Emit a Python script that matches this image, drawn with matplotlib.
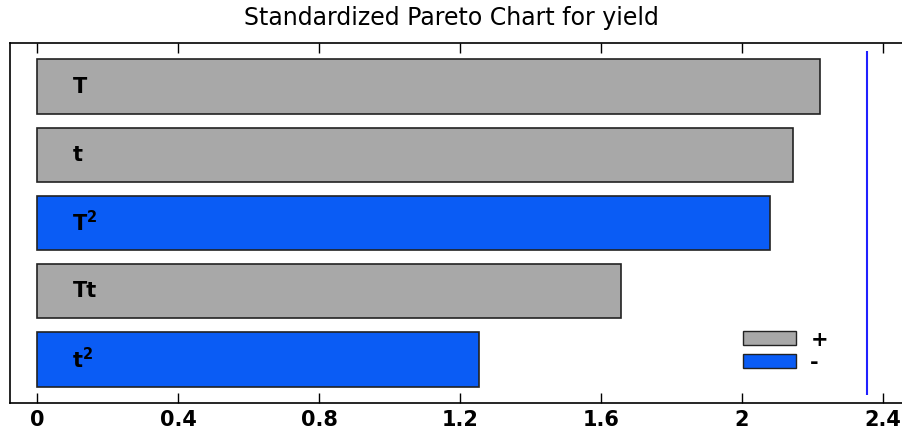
import matplotlib.pyplot as plt
from matplotlib.patches import Patch

# efeitos padronizados
efeitos = ['T', 't', r'T$^{\mathbf{2}}$', 'Tt', r't$^{\mathbf{2}}$']
valores = [2.22, 2.145, 2.08, 1.657, 1.254]
sinais = ['+', '+', '-', '+', '-']
limite = 2.355  # linha de significancia
ticks_x = [0, 0.4, 0.8, 1.2, 1.6, 2, 2.4]

cor_pos = '#a8a8a8'
cor_neg = '#0a5cf5'

plt.rcParams['mathtext.fontset'] = 'dejavusans'

fig = plt.figure(figsize=(9.02, 4.32), dpi=100)
ax = fig.add_axes([10 / 902, 29 / 432, 892 / 902, 360 / 432])

n = len(efeitos)
pos = [n - 1 - i for i in range(n)]
cores = [cor_pos if s == '+' else cor_neg for s in sinais]
ax.barh(pos, valores, height=0.8, color=cores, edgecolor='#222222', linewidth=1.2)

for p, nome in zip(pos, efeitos):
    ax.text(0.1, p, nome, fontsize=15, fontweight='bold', va='center', ha='left',
            family='DejaVu Sans')

ax.vlines(limite, -0.52, n - 0.48, color='#2020ff', linewidth=1.5)

ax.set_xlim(-0.077, 2.454)
ax.set_ylim(-0.64, n - 1 + 0.64)
ax.set_xticks(ticks_x)
ax.set_xticklabels([f'{t:g}' for t in ticks_x], fontsize=15, fontweight='bold',
                   family='DejaVu Sans')
ax.set_yticks([])
ax.tick_params(axis='x', direction='in', top=True, length=7, width=1, pad=5)
ax.spines['right'].set_visible(False)
for s in ['left', 'top', 'bottom']:
    ax.spines[s].set_linewidth(1.2)

leg = [Patch(facecolor=cor_pos, edgecolor='#222222', label='+'),
       Patch(facecolor=cor_neg, edgecolor='#222222', label='-')]
ax.legend(handles=leg, loc='upper left', bbox_to_anchor=(0.822, 0.204), frameon=False,
          borderpad=0, borderaxespad=0,
          handlelength=2.55, handleheight=0.67, handletextpad=0.67, labelspacing=0.15,
          prop={'size': 15, 'weight': 'bold', 'family': 'DejaVu Sans'})

fig.text(0.5, 1 - 18 / 432, 'Standardized Pareto Chart for yield', ha='center', va='center',
         fontsize=17, family='DejaVu Sans')

fig.savefig('out.png')
